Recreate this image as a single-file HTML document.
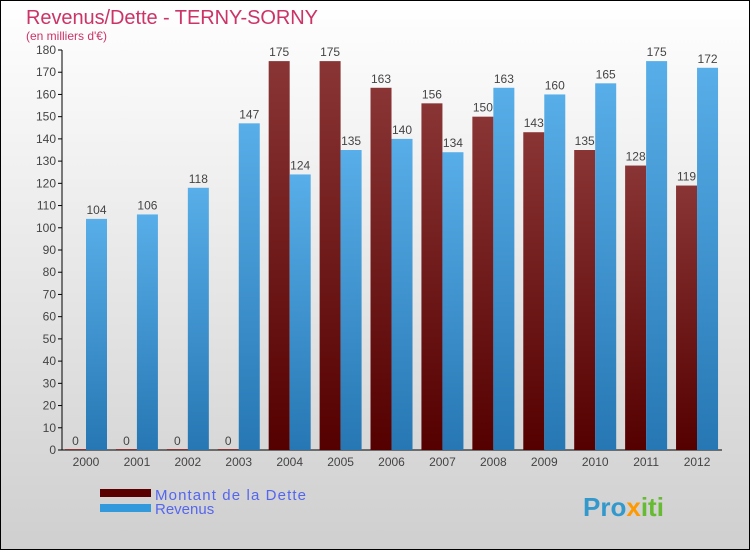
<!DOCTYPE html>
<html><head><meta charset="utf-8"><style>
body{margin:0;width:750px;height:550px;overflow:hidden;font-family:"Liberation Sans",sans-serif}
</style></head><body>
<svg width="750" height="550" xmlns="http://www.w3.org/2000/svg">
<defs>
<linearGradient id="bg" x1="0" y1="0" x2="0" y2="1"><stop offset="0" stop-color="#ffffff"/><stop offset="1" stop-color="#cfcfcf"/></linearGradient>
<linearGradient id="gd" x1="0" y1="0" x2="0" y2="1"><stop offset="0" stop-color="#8a3535"/><stop offset="1" stop-color="#550000"/></linearGradient>
<linearGradient id="gr" x1="0" y1="0" x2="0" y2="1"><stop offset="0" stop-color="#58aee8"/><stop offset="1" stop-color="#2677b3"/></linearGradient>
</defs>
<rect x="0.5" y="0.5" width="749" height="549" fill="url(#bg)" stroke="#000" stroke-width="1"/>
<text x="26" y="24" font-size="20" textLength="292" fill="#cc3366">Revenus/Dette - TERNY-SORNY</text>
<text x="26" y="40" font-size="12" fill="#cc3366">(en milliers d'€)</text>
<g id="plot"></g>
<g>
<rect x="100" y="489" width="51" height="8" fill="#5a0000"/>
<text x="155" y="500" font-size="15" textLength="151" fill="#5566ee">Montant de la Dette</text>
<rect x="100" y="504" width="51" height="8" fill="#3399dd"/>
<text x="155" y="514" font-size="15" fill="#5566ee">Revenus</text>
</g>
<text x="583" y="516" font-size="26" font-weight="bold" fill="#3399cc">Pro<tspan fill="#ff9900">x</tspan><tspan fill="#66bb33">iti</tspan></text>
</svg>
<script>
const years=["2000","2001","2002","2003","2004","2005","2006","2007","2008","2009","2010","2011","2012"];
const dette=[0,0,0,0,175,175,163,156,150,143,135,128,119];
const revenus=[104,106,118,147,124,135,140,134,163,160,165,175,172];
const yTicks=[0,10,20,30,40,50,60,70,80,90,100,110,120,130,140,150,160,170,180];
const NS="http://www.w3.org/2000/svg";
const g=document.getElementById('plot');
function y(v){return 450-v*400/180;}
function x(i){return 86+i*50.92;}
function mk(t,a){const e=document.createElementNS(NS,t);for(const k in a)e.setAttribute(k,a[k]);g.appendChild(e);return e;}
const ax=mk('line',{x1:62,y1:50,x2:62,y2:450,stroke:'#000'});


const bx=mk('line',{x1:62,y1:450,x2:722,y2:450,stroke:'#000'});


yTicks.forEach(v=>{
 const l=mk('line',{x1:58,y1:y(v),x2:62,y2:y(v),stroke:'#000'});
 
 
 const t=mk('text',{x:56,y:y(v)+4,'font-size':12,'text-anchor':'end',fill:'#444'});
 t.textContent=v;
 
 
});
years.forEach((yr,i)=>{
 const cx=x(i);
 const t=mk('text',{x:cx,y:466,'font-size':12,'text-anchor':'middle',fill:'#444'});
 t.textContent=yr;
 
 
 const d=dette[i];
 const r1=mk('rect',{x:cx-21,y:y(d)-(d===0?1:0),width:21,height:Math.max(450-y(d),1),fill:d===0?'#8a3535':'url(#gd)'});
 
 
 const l1=mk('text',{x:cx-10.5,y:y(d)-5,'font-size':12,'text-anchor':'middle',fill:'#444'});
 l1.textContent=d;
 
 
 const r=revenus[i];
 const r2=mk('rect',{x:cx,y:y(r),width:21,height:450-y(r),fill:'url(#gr)'});
 
 
 const l2=mk('text',{x:cx+10.5,y:y(r)-5,'font-size':12,'text-anchor':'middle',fill:'#444'});
 l2.textContent=r;
 
 
});
</script>
</body></html>
